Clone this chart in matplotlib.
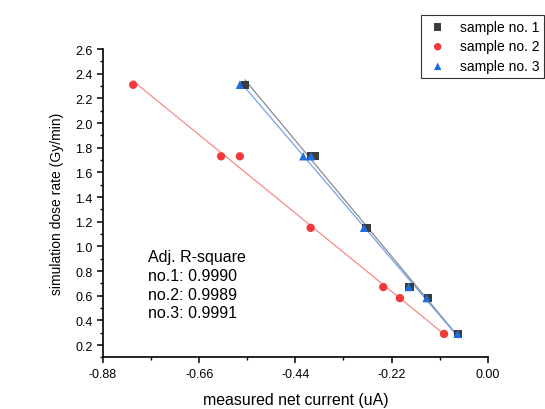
import matplotlib
matplotlib.use("Agg")
import matplotlib.pyplot as plt
import numpy as np
from matplotlib.ticker import MultipleLocator, FormatStrFormatter

plt.rcParams['font.family'] = ['Liberation Sans', 'DejaVu Sans']

# dose rate values (shared by all samples)
dose = [2.31, 1.73, 1.73, 1.15, 0.67, 0.58, 0.29]

# measured net current for each sample
cur1 = [-0.555, -0.405, -0.395, -0.277, -0.179, -0.136, -0.068]
cur2 = [-0.811, -0.610, -0.567, -0.405, -0.239, -0.201, -0.100]
cur3 = [-0.567, -0.422, -0.404, -0.283, -0.181, -0.140, -0.069]

labels = ['sample no. 1', 'sample no. 2', 'sample no. 3']
r2 = ['0.9990', '0.9989', '0.9991']

fig = plt.figure(figsize=(5.45, 4.10), dpi=100)
ax = fig.add_axes([0.189, 0.126, 0.706, 0.752])

series = [
    (cur1, 's', '#3c3c3c', '#8a8a8a'),
    (cur2, 'o', '#f03a3a', '#f58a8a'),
    (cur3, '^', '#1d6fe0', '#6fa3ee'),
]

handles = []
for (x, mk, col, lcol), lab in zip(series, labels):
    x = np.array(x)
    y = np.array(dose)
    k, b = np.polyfit(x, y, 1)
    xs = np.array([x.min(), x.max()])
    ax.plot(xs, k * xs + b, color=lcol, lw=0.9, zorder=2)
    h = ax.scatter(x, y, marker=mk, s=36, color=col, edgecolors='none', zorder=3, label=lab)
    handles.append(h)

ax.set_xlim(-0.88, 0.0)
ax.set_ylim(0.1, 2.6)
ax.xaxis.set_major_locator(MultipleLocator(0.22))
ax.xaxis.set_minor_locator(MultipleLocator(0.11))
ax.yaxis.set_minor_locator(MultipleLocator(0.1))
ax.set_yticks(np.arange(0.2, 2.61, 0.2))
ax.xaxis.set_major_formatter(FormatStrFormatter('%.2f'))
ax.yaxis.set_major_formatter(FormatStrFormatter('%.1f'))

ax.spines['top'].set_visible(False)
ax.spines['right'].set_visible(False)
ax.spines['left'].set_linewidth(1.2)
ax.spines['bottom'].set_linewidth(1.2)
ax.tick_params(which='major', direction='out', length=4, width=1.1, labelsize=9)
ax.tick_params(which='minor', direction='out', length=2.5, width=1.0)

ax.set_xlabel('measured net current (uA)', fontsize=11.4, labelpad=9)
ax.set_ylabel('simulation dose rate (Gy/min)', fontsize=10, labelpad=8)

ax.text(-0.777, 0.975, 'Adj. R-square\n' + '\n'.join('no.%d: %s' % (i + 1, v) for i, v in enumerate(r2)),
        fontsize=11.5, va='top', ha='left', linespacing=1.3)

leg = fig.legend(handles=handles, loc='upper left', bbox_to_anchor=(0.7725, 0.961),
                 borderaxespad=0, fontsize=10, frameon=True, fancybox=False, edgecolor='black',
                 handletextpad=0.75, borderpad=0.35, labelspacing=0.4, markerscale=0.9,
                 handlelength=1.7)
leg.get_frame().set_linewidth(0.8)

fig.savefig('out.png', dpi=100)
